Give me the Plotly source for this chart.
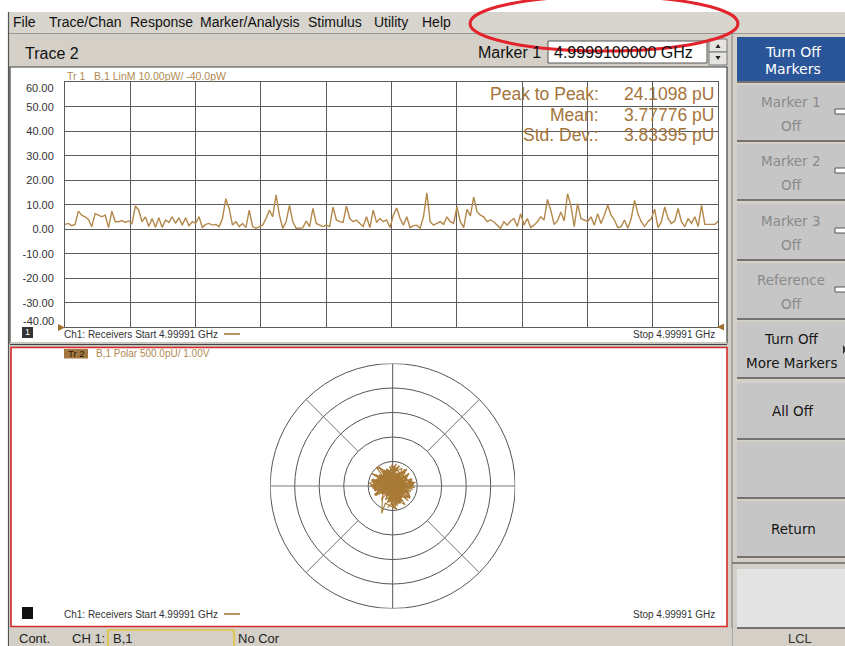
import plotly.graph_objects as go

W, H = 845, 646

# ---------------- data ----------------
linm_values = [
    2.0, 2.4, 1.5, 2.0, 7.4, 5.8, 5.1, 4.0, 1.1, 6.4, 5.8, 5.1, 5.8, 0.7, 7.4, 3.1, 3.1, 3.6, 2.8, 3.4,
    2.4, 9.5, 7.8, 3.1, 5.1, 1.1, 4.4, 0.8, 4.7, 0.8, 3.8, 2.8, 5.1, 2.4, 4.7, 1.7, 4.7, 1.5, 3.1, 2.4,
    5.1, 0.7, 2.0, 2.4, 1.7, 2.0, 1.1, 4.4, 12.5, 8.5, 1.7, 3.1, 1.1, 2.4, 0.7, 7.8, 1.1, 0.4, 1.1, 1.7,
    4.4, 7.8, 5.1, 14.1, 5.8, 0.4,
    3.1, 9.8, 3.1, 0.4, 0.4, 0.7, 3.4, 1.1, 8.5, 2.4, 1.7, 1.1, 1.7, 1.1, 9.1, 3.8, 3.1, 2.8, 9.5, 4.4,
    3.1, 3.8, 2.4, 1.1, 5.1, 0.7, 7.8, 2.8, 4.4, 3.1, 3.8, 0.7, 5.8, 8.7, 4.4, 1.7, 5.1, 0.7, 1.5, 1.7,
    0.4, 5.1, 14.9, 3.1, 1.7, 2.4, 3.1, 2.0, 5.1, 3.1, 2.4, 9.1, 3.1, 0.7, 8.2, 5.5, 13.2, 7.1, 5.8, 5.1,
    3.1, 3.8, 3.1, 1.7,
    0.4, 3.1, 1.7, 3.4, 4.4, 1.1, 6.4, 1.7, 4.4, 0.7, 1.7, 3.1, 5.1, 3.8, 12.2, 7.8, 2.0, 3.4, 7.1, 3.4,
    14.5, 9.8, 1.1, 10.5, 4.4, 3.8, 3.1, 5.1, 1.7, 6.4, 2.4, 5.8, 9.8, 5.8, 3.8, 0.7, 1.1, 3.8, 0.4, 4.4,
    11.8, 6.4, 3.1, 1.1, 3.1, 4.4, 8.2, 0.7, 3.1, 9.1, 4.4, 2.4, 3.4, 8.5, 3.1, 1.1, 4.4, 2.4, 5.1, 1.1,
    9.8, 2.0, 2.0, 2.0, 2.0, 3.4,
]

polar_re = [
    0.10, -0.42, 0.55, -0.18, 0.72, -0.66, 0.31, -0.85, 0.47, 0.02,
    -0.38, 0.83, -0.57, 0.19, -0.27, 0.64, -0.79, 0.41, -0.08, 0.58,
    -0.49, 0.26, -0.71, 0.77, -0.22, 0.13, -0.92, 0.51, -0.35, 0.68,
    -0.14, 0.37, -0.61, 0.89, -0.03, -0.46, 0.22, 0.74, -0.83, 0.35,
    -0.25, 0.62, -0.54, 0.07, 0.81, -0.69, 0.44, -0.11, -0.40, 0.93,
    -0.30, 0.16, -0.76, 0.53, -0.05, 0.67, -0.58, 0.28, -0.95, 0.40,
    0.04, -0.62, 0.79, -0.20, 0.49, -0.44, 0.15, -0.73, 0.60, -0.09,
    0.33, -0.86, 0.70, -0.32, 0.24, -0.52, 0.86, -0.16, 0.45, -0.67,
    0.11, -0.39, 0.63, -0.80, 0.38, -0.02, 0.56, -0.48, 0.20, -0.70,
    0.75, -0.26, 0.09, -0.55, 0.42, -0.88, 0.30, -0.13, 0.66, -0.36,
    -0.45, -0.30, 0.18, -0.60, 0.50, -0.21, 0.84, -0.75, 0.27, -0.04,
    0.59, -0.41, 0.36, -0.82, 0.14, 0.71, -0.50, 0.23, -0.17, 0.47,
]
polar_im = [
    0.35, -0.28, 0.12, 0.66, -0.45, 0.21, -0.72, 0.05, 0.58, -0.90,
    0.44, -0.15, 0.78, -0.36, 0.27, -0.60, 0.49, 0.08, -0.53, 0.70,
    -0.19, 0.83, -0.40, 0.31, -0.68, 0.16, 0.02, -0.77, 0.55, -0.30,
    0.62, -0.49, 0.24, -0.07, 0.86, -0.58, 0.40, -0.22, 0.29, -0.65,
    0.71, -0.11, 0.47, -0.84, 0.19, -0.34, 0.60, -0.43, 0.04, 0.15,
    -0.56, 0.74, -0.18, 0.37, -0.70, 0.52, -0.25, 0.81, 0.10, -0.46,
    0.57, -0.04, 0.26, -0.62, 0.68, -0.33, 0.90, -0.20, 0.42, -0.75,
    0.09, 0.50, -0.38, 0.63, -0.52, 0.23, 0.06, -0.67, 0.34, 0.76,
    -0.27, 0.55, -0.48, 0.14, 0.72, -0.59, 0.30, 0.45, -0.81, 0.20,
    -0.10, 0.67, -0.44, 0.38, -0.15, 0.25, -0.55, 0.80, -0.32, 0.48,
    -1.12, -0.70, -0.95, 0.05, -0.20, -0.88, 0.12, -0.35, 0.58, -0.40,
    0.28, 0.61, -0.62, -0.08, 0.53, -0.51, 0.36, -0.73, 0.18, -0.26,
]

y_tick_values = [-40, -30, -20, -10, 0, 10, 20, 30, 40, 50, 60]
polar_circle_radii = [1, 2, 3, 4, 5]

menu_items = ["File", "Trace/Chan", "Response", "Marker/Analysis", "Stimulus", "Utility", "Help"]
stat_labels = ["Peak to Peak:", "Mean:", "Std. Dev.:"]
stat_values = ["24.1098 pU", "3.77776 pU", "3.83395 pU"]
softkeys = [("Marker 1", "Off", False), ("Marker 2", "Off", False), ("Marker 3", "Off", False),
            ("Reference", "Off", False), ("Turn Off", "More Markers", True), ("All Off", None, True),
            ("", None, True), ("Return", None, True)]

# ---------------- helpers ----------------
def X(p):
    return p / W


def Y(p):
    return 1 - p / H


UI = "Liberation Sans, Arial, sans-serif"
KEYF = "DejaVu Sans, Verdana, sans-serif"
BROWN = "#a3743a"

shapes = []
annotations = []


def rect(x0, y0, x1, y1, fill=None, line=None, lw=1, layer="below"):
    shapes.append(dict(type="rect", xref="paper", yref="paper",
                       x0=X(x0), x1=X(x1), y0=Y(y1), y1=Y(y0),
                       fillcolor=fill if fill else "rgba(0,0,0,0)",
                       line=dict(color=line if line else "rgba(0,0,0,0)", width=lw if line else 0),
                       layer=layer))


def seg(x0, y0, x1, y1, color="#444", lw=1, layer="below"):
    shapes.append(dict(type="line", xref="paper", yref="paper",
                       x0=X(x0), x1=X(x1), y0=Y(y0), y1=Y(y1),
                       line=dict(color=color, width=lw), layer=layer))


def tri(pts, color, layer="above"):
    path = "M " + " L ".join(f"{X(a)},{Y(b)}" for a, b in pts) + " Z"
    shapes.append(dict(type="path", xref="paper", yref="paper", path=path,
                       fillcolor=color, line=dict(color=color, width=0), layer=layer))


def txt(x, y, s, size=13, color="#222", anchor="left", family=UI, **kw):
    annotations.append(dict(x=X(x), y=Y(y), xref="paper", yref="paper", text=s,
                            showarrow=False, xanchor=anchor, yanchor="middle",
                            font=dict(size=size, color=color, family=family), **kw))


# ---------------- window chrome ----------------
rect(0, 0, 845, 12, fill="white")
rect(0, 0, 8, 646, fill="white")
rect(8, 12, 845, 33, fill="#d8d5ce")
seg(8, 33.5, 845, 33.5, color="#9a9893")
seg(8.5, 12, 8.5, 646, color="#555", lw=1.2)

menu_x = [11, 47, 128, 198, 306, 372, 420]
for m, mx in zip(menu_items, menu_x):
    txt(mx, 22, m, size=14, color="#111")

# header row
txt(23, 53, "Trace 2", size=16, color="#111")
txt(476, 52, "Marker 1", size=16, color="#111")
rect(548, 41, 707, 63, fill="white", line="#555", lw=1)
txt(552, 52, "4.9999100000 GHz", size=16, color="#111")
rect(709, 39, 727, 52, fill="#e6e4df", line="#777", lw=1)
rect(709, 52, 727, 65, fill="#e6e4df", line="#777", lw=1)
tri([(715.5, 48), (720.5, 48), (718, 44)], "#222")
tri([(715.5, 56), (720.5, 56), (718, 60)], "#222")

# ---------------- upper panel ----------------
rect(10, 67, 727, 343, fill="white", line="#404040", lw=1.2)
rect(10, 342, 727, 347, fill="#c9c6bf")
seg(10, 344.5, 727, 344.5, color="#444", lw=1)
txt(65, 76, "Tr 1   B,1 LinM 10.00pW/ -40.0pW", size=10.5, color="#b08a52")
rect(22, 327, 33, 338, fill="#333")
txt(27.5, 332.5, "1", size=9, color="white", anchor="center")
txt(62, 334, "Ch1: Receivers Start 4.99991 GHz", size=10, color="#333")
seg(224, 334, 240, 334, color="#a0702c", lw=1.5, layer="above")
txt(717, 334, "Stop 4.99991 GHz", size=10, color="#333", anchor="right")
tri([(58, 324), (58, 331), (65, 327.5)], "#a0702c")
tri([(724, 323.5), (724, 330.5), (717, 327)], "#a0702c")

for i, (lab, val) in enumerate(zip(stat_labels, stat_values)):
    yy = 94 + i * 20.5
    txt(601, yy, lab, size=17.5, color=BROWN, anchor="right")
    txt(717, yy, val, size=17.5, color=BROWN, anchor="right")

# y labels at the extremes (drawn inside the frame, as on the instrument)
annotations.append(dict(x=X(56), y=60, xref="paper", yref="y", text="60.00", showarrow=False,
                        xanchor="right", yanchor="middle", yshift=-6,
                        font=dict(size=11, color="#333", family=UI)))
annotations.append(dict(x=X(56), y=-40, xref="paper", yref="y", text="-40.00", showarrow=False,
                        xanchor="right", yanchor="middle", yshift=6,
                        font=dict(size=11, color="#333", family=UI)))

# ---------------- lower panel ----------------
rect(11, 347.5, 727, 626.5, fill="white", line="#d42a2a", lw=1.6)
rect(64, 349, 88, 358.5, fill="#a07840")
txt(76, 353.8, "Tr 2", size=9.5, color="#2a1a05", anchor="center")
txt(94, 353.8, "B,1 Polar 500.0pU/ 1.00V", size=10, color="#b08a52")
rect(22, 607, 33, 619, fill="#111")
txt(62, 614, "Ch1: Receivers Start 4.99991 GHz", size=10, color="#333")
seg(224, 614, 240, 614, color="#a0702c", lw=1.5, layer="above")
txt(717, 614, "Stop 4.99991 GHz", size=10, color="#333", anchor="right")

for r in polar_circle_radii:
    shapes.append(dict(type="circle", xref="x2", yref="y2", x0=-r, x1=r, y0=-r, y1=r,
                       line=dict(color="#555", width=1), layer="below"))
shapes.append(dict(type="line", xref="x2", yref="y2", x0=-5, x1=5, y0=0, y1=0,
                   line=dict(color="#777", width=1), layer="below"))
shapes.append(dict(type="line", xref="x2", yref="y2", x0=0, x1=0, y0=-5, y1=5,
                   line=dict(color="#555", width=1), layer="below"))
d2, d5 = 2 * 0.7071, 5 * 0.7071
for sx, sy in [(1, 1), (-1, 1), (-1, -1), (1, -1)]:
    shapes.append(dict(type="line", xref="x2", yref="y2", x0=sx * d2, x1=sx * d5,
                       y0=sy * d2, y1=sy * d5, line=dict(color="#777", width=1), layer="below"))

# ---------------- right softkey column ----------------
seg(732, 33, 732, 646, color="#9a9893", lw=1.5)
rect(737, 37, 845, 81, fill="#2a5599")
seg(737, 82, 845, 82, color="#555", lw=1.5)
txt(793, 52, "Turn Off", size=14, color="white", anchor="center", family=KEYF)
txt(793, 69, "Markers", size=14, color="white", anchor="center", family=KEYF)

key_tops = [85, 144, 204, 263, 322, 383, 442, 501]
for (l1, l2, enabled), top in zip(softkeys, key_tops):
    bot = top + 55
    rect(737, top, 845, bot, fill="#c6c6c6")
    seg(737, bot + 1, 845, bot + 1, color="#555", lw=1.5)
    col = "#151515" if enabled else "#8a8a8a"
    cx = 791
    if l2 is None:
        if l1:
            txt(cx + 2, top + 28, l1, size=13.5, color=col, anchor="center", family=KEYF)
    else:
        txt(cx, top + 17, l1, size=13.5, color=col, anchor="center", family=KEYF)
        txt(cx, top + 41, l2, size=13.5, color=col, anchor="center", family=KEYF)
    if not enabled:
        rect(835, top + 24, 848, top + 29, fill="white", line="#555", lw=1, layer="above")
tri([(843, 345), (843, 354), (847, 349.5)], "#333")

seg(732, 563, 845, 563, color="#666", lw=1.5)
rect(737, 569, 845, 627, fill="#e3e3e3")
seg(737, 628, 845, 628, color="#555", lw=1.5)

# ---------------- status bar ----------------
rect(9, 628, 732, 646, fill="#d4d0c8")
txt(17, 638, "Cont.", size=13, color="#222")
txt(70, 638, "CH 1:", size=13, color="#222")
rect(108, 630, 234, 648, line="#e6c200", lw=1.2)
txt(111, 638, "B,1", size=13, color="#222")
txt(236, 638, "No Cor", size=13, color="#222")
txt(800, 638, "LCL", size=13, color="#333", anchor="center")

# ---------------- red ellipse highlight ----------------
shapes.append(dict(type="circle", xref="paper", yref="paper",
                   x0=X(470), x1=X(738), y0=Y(51), y1=Y(-4),
                   line=dict(color="#e3232b", width=3), layer="above"))

# ---------------- traces ----------------
fig = go.Figure()
fig.add_trace(go.Scatter(x=list(range(len(linm_values))), y=linm_values, mode="lines",
                         line=dict(color="#b3884a", width=1.4), xaxis="x", yaxis="y",
                         hoverinfo="skip"))
fig.add_trace(go.Scatter(x=polar_re, y=polar_im, mode="lines",
                         line=dict(color="#a87a35", width=1.1), xaxis="x2", yaxis="y2",
                         hoverinfo="skip"))

n = len(linm_values)
fig.update_layout(
    width=W, height=H, autosize=False,
    margin=dict(l=0, r=0, t=0, b=0),
    paper_bgcolor="#d4d0c8", plot_bgcolor="white",
    showlegend=False,
    xaxis=dict(domain=[X(65), X(718.3)], range=[0, n - 1], tick0=0, dtick=(n - 1) / 10,
               showgrid=True, gridcolor="#5c5c5c", gridwidth=1, showticklabels=False,
               zeroline=False, showline=True, mirror=True, linecolor="#5c5c5c", linewidth=1,
               ticks="", fixedrange=True),
    yaxis=dict(domain=[Y(327.3), Y(82.3)], range=[-40, 60], tickmode="array",
               tickvals=y_tick_values,
               ticktext=["" if v in (-40, 60) else f"{v:.2f}" for v in y_tick_values],
               showgrid=True, gridcolor="#5c5c5c", gridwidth=1, zeroline=False,
               showline=True, mirror=True, linecolor="#5c5c5c", linewidth=1,
               ticks="", ticklabelstandoff=8,
               tickfont=dict(size=11, color="#333", family=UI), fixedrange=True),
    xaxis2=dict(domain=[X(392.7 - 122.5), X(392.7 + 122.5)], range=[-5, 5], anchor="y2",
                visible=False, fixedrange=True),
    yaxis2=dict(domain=[Y(486 + 122.5), Y(486 - 122.5)], range=[-5, 5], anchor="x2",
                visible=False, fixedrange=True),
    shapes=shapes,
    annotations=annotations,
)

fig.write_html("out.html", config={"displayModeBar": False},
               post_script="document.body.style.margin='0px';document.body.style.overflow='hidden';")
